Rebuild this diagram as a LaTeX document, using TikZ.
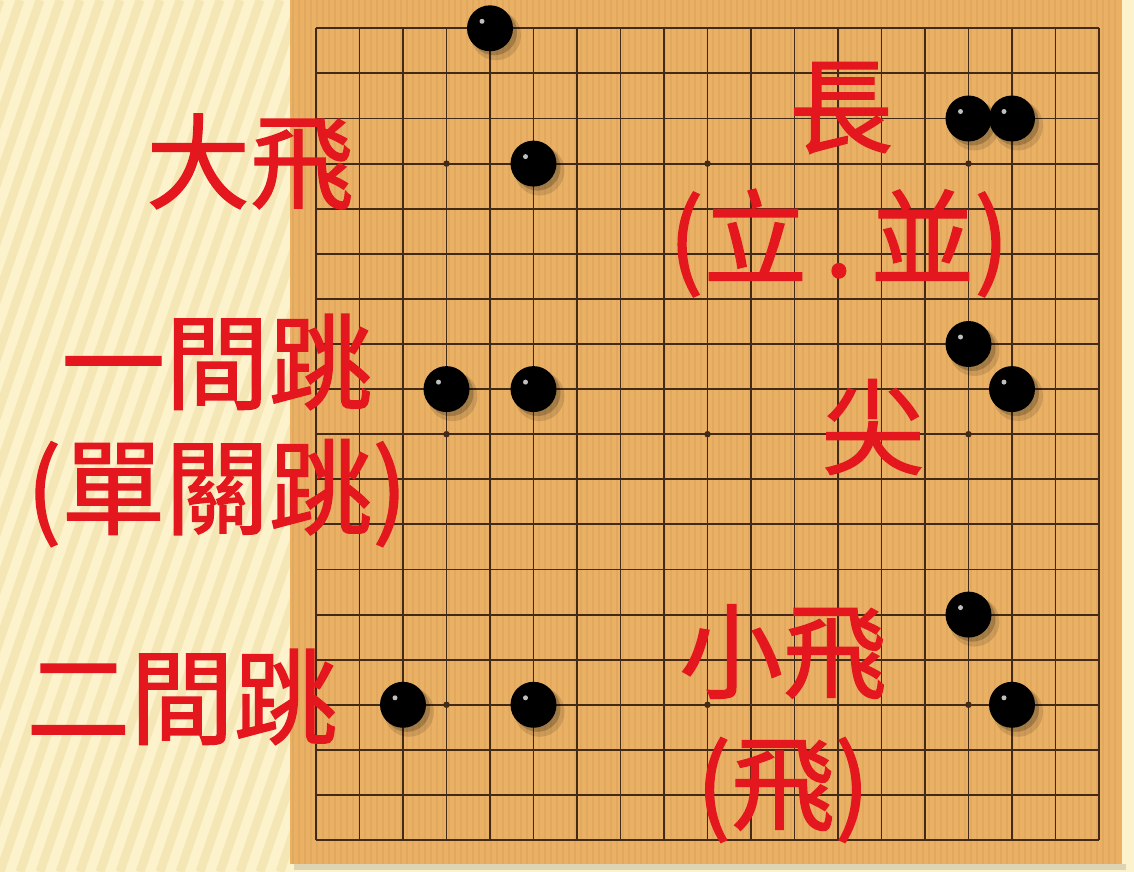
\documentclass[tikz,border=0pt]{standalone}
\usepackage{fontspec}
\newfontfamily\cjkfont[FakeBold=1.3]{Noto Sans CJK TC}
\usetikzlibrary{calc}
\definecolor{boardwood}{RGB}{234,177,100}
\definecolor{gridbrown}{RGB}{66,42,22}
\definecolor{creambg}{RGB}{252,242,204}
\definecolor{creamstripe}{RGB}{245,230,182}
\definecolor{termred}{RGB}{228,22,30}
\tikzset{
  stone/.style={
    shape = circle,
    fill = black,
    inner sep = 0,
    minimum size = 0.92cm
  },
  starpoint/.style={
    shape = circle,
    fill = gridbrown,
    inner sep = 0,
    minimum size = 0.13cm
  },
  gridline/.style={
    gridbrown,
    line width = 1.1pt
  },
  term/.style={
    text = termred,
    inner sep = 0,
    font = \cjkfont\fontsize{59}{70}\selectfont
  }
}

\begin{document}
\begin{tikzpicture}[x=0.02cm, y=-0.02cm]
  \useasboundingbox (0,0) rectangle (1134,872);
  % background and board
  \fill[creambg] (0,0) rectangle (1134,872);
  \begin{scope}
    \clip (0,0) rectangle (290,872);
    \foreach \x in {-320,-300,...,300}
      \draw[creamstripe, line width=5pt] (\x,872) -- ++(300,-872);
  \end{scope}
  \fill[black, opacity=0.12] (294,864) rectangle (1126,870);
  \fill[boardwood] (290,0) rectangle (1122,864);
  \foreach \x in {293,299,...,1120}
    \draw[brown!60!black, opacity=0.07, line width=1pt] (\x,0) -- (\x,864);
  % grid
  \foreach \i in {0,...,18}{
    \draw[gridline] ({316+43.5*\i},28.3) -- ({316+43.5*\i},840);
    \draw[gridline] (316,{28.3+45.1*\i}) -- (1099,{28.3+45.1*\i});
  }
  \foreach \c in {3,9,15}
    \foreach \r in {3,9,15}
      \node[starpoint] (star-\c-\r) at ({316+43.5*\c},{28.3+45.1*\r}) {};
  % stones
  \foreach \c/\r [count=\i] in {4/0,5/3,15/2,16/2,3/8,5/8,15/7,16/8,15/13,16/15,2/15,5/15}{
    \fill[black, opacity=0.12] ({316+43.5*\c+6},{28.3+45.1*\r+7}) circle[radius=25];
    \fill[black, opacity=0.2] ({316+43.5*\c+4},{28.3+45.1*\r+4}) circle[radius=23];
    \node[stone] (s\i) at ({316+43.5*\c},{28.3+45.1*\r}) {};
    \fill[white, opacity=0.75] ($(s\i)+(-8,-7)$) circle[radius=2.5];
  }
  % labels
  \node[term] (dafei) at (250,162) {大飛};
  \node[term] (chang) at (841,108) {長};
  \node[term] (libing) at (839,243) {(立\,.\,並)};
  \node[term] (yijian) at (217,362) {一間跳};
  \node[term] (danguan) at (217,493) {(單關跳)};
  \node[term] (jian) at (873,427) {尖};
  \node[term] (erjian) at (182,697) {二間跳};
  \node[term] (xiaofei) at (783,652) {小飛};
  \node[term] (fei) at (783,790) {(飛)};
\end{tikzpicture}
\end{document}
